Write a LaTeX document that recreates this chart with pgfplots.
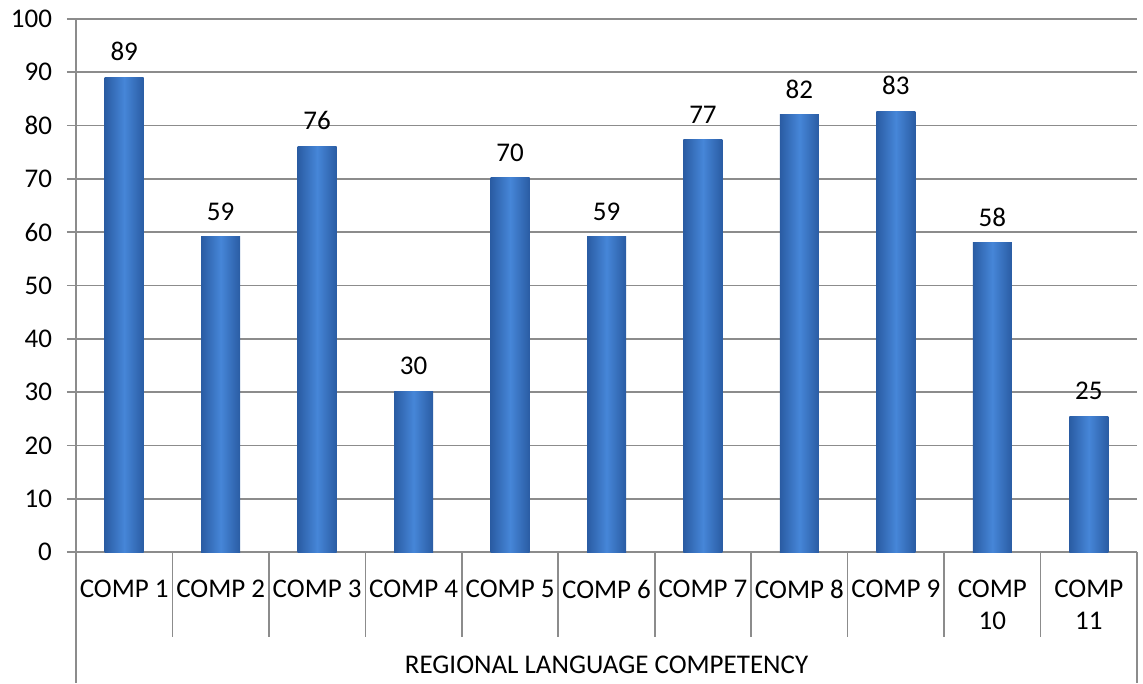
\documentclass[border=0pt]{standalone}
\usepackage{fontspec}
\setmainfont{Carlito}
\usepackage{pgfplots}
\pgfplotsset{compat=1.18}
\definecolor{gridgray}{HTML}{8C8C8C}
\definecolor{barmid}{HTML}{4686D8}
\definecolor{baredge}{HTML}{2A5CA3}
\pgfplotsset{
  mybar/.style={draw=none, bar shift=0pt, left color=baredge, right color=baredge, middle color=barmid},
}
\begin{document}
\begin{tikzpicture}
  \begin{axis}[
      scale only axis,
      width=530.5pt, height=266.5pt,
      xmin=-0.5, xmax=10.5, ymin=0, ymax=100,
      ytick={0,10,...,100},
      xtick={0,1,...,10},
      xticklabels={COMP 1,COMP 2,COMP 3,COMP 4,COMP 5,COMP 6,COMP 7,COMP 8,COMP 9,{COMP\\10},{COMP\\11}},
      axis lines*=left,
      axis line style={gridgray, line width=0.8pt},
      ymajorgrids=true,
      grid style={gridgray, line width=0.8pt},
      major x tick style={draw=none},
      major y tick style={gridgray, line width=0.8pt},
      tick align=outside,
      major tick length=4.5pt,
      ybar, bar width=19.5pt,
      font=\fontsize{13.5}{16}\selectfont,
      /pgf/number format/assume math mode=true,
      ticklabel style={font=\fontsize{13.5}{16}\selectfont},
      xticklabel style={align=center, anchor=north, yshift=-6pt},
      yticklabel style={xshift=-4pt},
      clip=false,
      nodes near coords={\pgfmathprintnumber[fixed,precision=0]{\pgfplotspointmeta}},
      every node near coord/.append style={font=\fontsize{13.5}{16}\selectfont, yshift=4.7pt},
    ]
    \addplot[mybar] coordinates {(0,89.0)};
    \addplot[mybar] coordinates {(1,59.1)};
    \addplot[mybar] coordinates {(2,76.1)};
    \addplot[mybar] coordinates {(3,30.2)};
    \addplot[mybar] coordinates {(4,70.2)};
    \addplot[mybar] coordinates {(5,59.1)};
    \addplot[mybar] coordinates {(6,77.3)};
    \addplot[mybar] coordinates {(7,82.0)};
    \addplot[mybar] coordinates {(8,82.7)};
    \addplot[mybar] coordinates {(9,58.0)};
    \addplot[mybar] coordinates {(10,25.4)};
    \draw[gridgray, line width=0.8pt] (rel axis cs:0,0) -- ++(0pt,-65.5pt);
    \draw[gridgray, line width=0.8pt] (rel axis cs:1,0) -- ++(0pt,-65.5pt);
    \pgfplotsinvokeforeach{0.5,1.5,...,9.5}{
      \draw[gridgray, line width=0.8pt] (axis cs:#1,0) -- ++(0pt,-42.5pt);
    }
    \node[anchor=base, font=\fontsize{13.5}{16}\selectfont] at ([yshift=-60.7pt]rel axis cs:0.5,0) {REGIONAL LANGUAGE COMPETENCY};
    \coordinate (bl) at ([xshift=-38pt, yshift=-65.5pt]rel axis cs:0,0);
    \coordinate (tr) at ([xshift=3pt, yshift=9.5pt]rel axis cs:1,1);
  \end{axis}
  \path (bl) rectangle (tr);
\end{tikzpicture}
\end{document}
